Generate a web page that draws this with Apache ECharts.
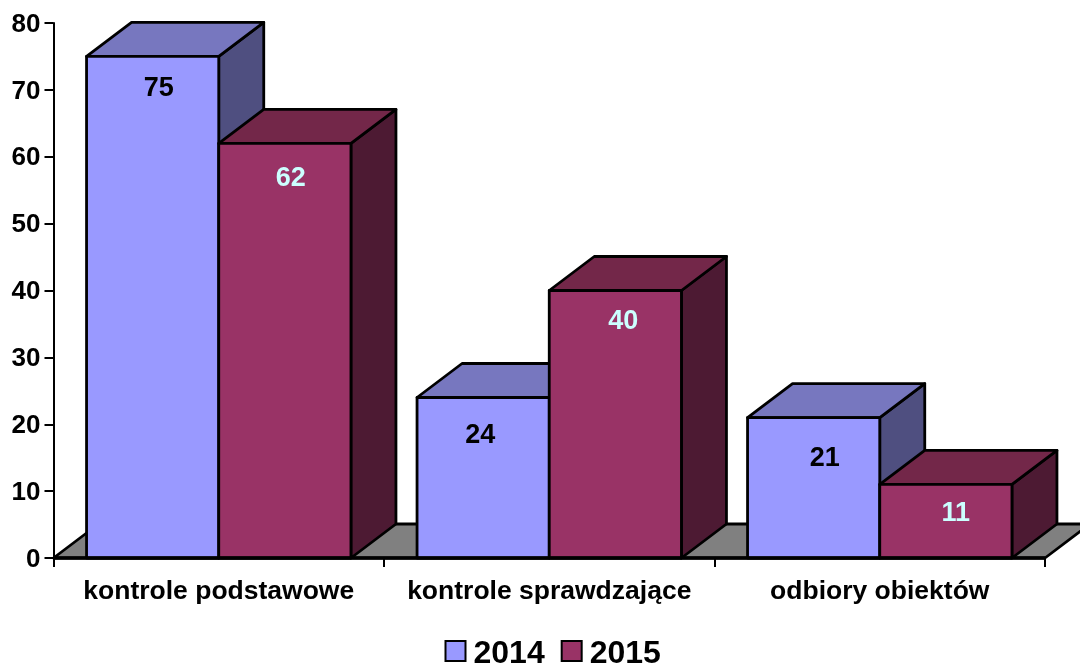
<!DOCTYPE html>
<html><head><meta charset="utf-8">
<style>html,body{margin:0;padding:0;background:#fff}#c{width:1080px;height:666px}</style>
<script src="https://cdn.jsdelivr.net/npm/echarts@6/dist/echarts.min.js"></script>
</head><body><div id="c"></div>
<script>
var categories = ['kontrole podstawowe', 'kontrole sprawdzające', 'odbiory obiektów'];
var values2014 = [75, 24, 21];
var values2015 = [62, 40, 11];
var yTicks = [0, 10, 20, 30, 40, 50, 60, 70, 80];

var DX = 45, DY = -34, FONT = '"Liberation Sans", Arial, sans-serif';
var labelShift2014 = [[6, 32], [-3, 38], [11, 41]];
var labelShift2015 = [[6, 35], [8, 31], [10, 29]];

function pts(a) { return { points: a }; }
function poly(a, fill) {
  return { type: 'polygon', shape: pts(a), style: { fill: fill, stroke: '#000', lineWidth: 2.8, lineJoin: 'round' } };
}
function barRenderer(seriesIdx, front, top, side, labelColor, shifts) {
  return function (params, api) {
    var i = api.value(0), v = api.value(1);
    var band = api.size([1, 0])[0];
    var base = api.coord([i, 0]);
    var tip = api.coord([i, v]);
    var x0 = base[0] - band / 2 + band * (0.1 + 0.4 * seriesIdx);
    var x1 = x0 + band * 0.4;
    var y0 = base[1], y1 = tip[1];
    var cx = (x0 + x1) / 2;
    return {
      type: 'group',
      children: [
        poly([[x1, y0], [x1 + DX, y0 + DY], [x1 + DX, y1 + DY], [x1, y1]], side),
        poly([[x0, y1], [x0 + DX, y1 + DY], [x1 + DX, y1 + DY], [x1, y1]], top),
        poly([[x0, y0], [x1, y0], [x1, y1], [x0, y1]], front),
        { type: 'text', z2: 10, style: {
            text: String(v), x: cx + shifts[i][0], y: y1 + shifts[i][1],
            align: 'center', verticalAlign: 'middle',
            fill: labelColor, font: 'bold 27px ' + FONT } }
      ]
    };
  };
}
function floorRenderer(params, api) {
  var a = api.coord([0, 0]), b = api.coord([categories.length - 1, 0]), band = api.size([1, 0])[0];
  var l = a[0] - band / 2, r = b[0] + band / 2, y = a[1];
  return poly([[l, y], [l + DX, y + DY], [r + DX, y + DY], [r, y]], '#808080');
}
function axisFront(params, api) {
  var a = api.coord([0, 0]), b = api.coord([categories.length - 1, 0]), band = api.size([1, 0])[0];
  return { type: 'line', shape: { x1: a[0] - band / 2, y1: a[1], x2: b[0] + band / 2, y2: a[1] },
           style: { stroke: '#000', lineWidth: 3.4 }, z2: 20 };
}
var chart = echarts.init(document.getElementById('c'), null, { renderer: 'canvas' });
chart.setOption({
  animation: false,
  backgroundColor: '#fff',
  grid: { left: 53.5, top: 23, width: 991.5, height: 535, containLabel: false },
  legend: {
    data: ['2014', '2015'], top: 638, left: 444.5, icon: 'rect', padding: 0,
    itemWidth: 20, itemHeight: 20, itemGap: 16,
    formatter: '{t|{name}}',
    textStyle: { rich: { t: { color: '#000', fontFamily: FONT, fontWeight: 'bold', fontSize: 32, padding: [6, 0, 0, 3] } } }
  },
  xAxis: {
    type: 'category', data: categories, boundaryGap: true,
    axisLine: { show: true, lineStyle: { color: '#000', width: 2 } },
    axisTick: { show: true, alignWithLabel: false, length: 9, lineStyle: { color: '#000', width: 2 } },
    axisLabel: { color: '#000', fontFamily: FONT, fontWeight: 'bold', fontSize: 26.5, margin: 20, interval: 0 }
  },
  yAxis: {
    type: 'value', min: yTicks[0], max: yTicks[yTicks.length - 1], interval: yTicks[1] - yTicks[0],
    splitLine: { show: false },
    axisLine: { show: true, lineStyle: { color: '#000', width: 2 } },
    axisTick: { show: true, length: 9, lineStyle: { color: '#000', width: 2 } },
    axisLabel: { margin: 13, formatter: '{t|{value}}',
      rich: { t: { color: '#000', fontFamily: FONT, fontWeight: 'bold', fontSize: 26, padding: [3, 0, 0, 0] } } }
  },
  series: [
    { type: 'custom', name: 'floor', z: 1, silent: true, clip: false, data: [[0, 0]],
      encode: { x: 0, y: 1 }, renderItem: floorRenderer },
    { type: 'custom', name: '2014', z: 2, clip: false,
      itemStyle: { color: '#9999FF', borderColor: '#000', borderWidth: 3 },
      data: values2014.map(function (v, i) { return [i, v]; }), encode: { x: 0, y: 1 },
      renderItem: barRenderer(0, '#9999FF', '#7777BF', '#4F4F80', '#000', labelShift2014) },
    { type: 'custom', name: '2015', z: 3, clip: false,
      itemStyle: { color: '#993366', borderColor: '#000', borderWidth: 3 },
      data: values2015.map(function (v, i) { return [i, v]; }), encode: { x: 0, y: 1 },
      renderItem: barRenderer(1, '#993366', '#732749', '#4D1A33', '#CCFFFF', labelShift2015) },
    { type: 'custom', name: 'baseline', z: 4, silent: true, clip: false, data: [[0, 0]],
      encode: { x: 0, y: 1 }, renderItem: axisFront }
  ]
});
</script></body></html>
